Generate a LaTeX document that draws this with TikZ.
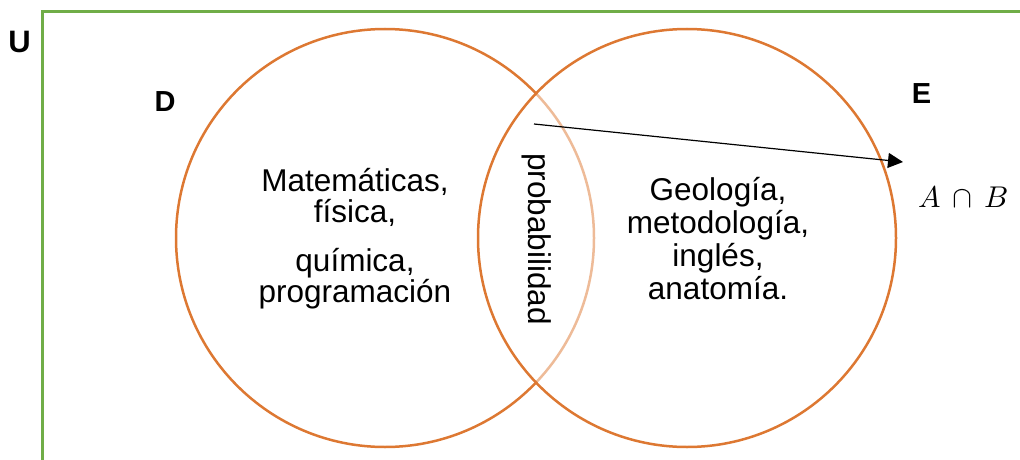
\documentclass[tikz,border=0pt]{standalone}
\usepackage{fontspec}
\usepackage{unicode-math}
\setmainfont{Liberation Sans}
\setmathfont{Latin Modern Math}
\usetikzlibrary{arrows.meta}
\definecolor{frameGreen}{RGB}{112,173,71}
\definecolor{setOrange}{RGB}{221,120,50}
\begin{document}
\begin{tikzpicture}[x=1pt,y=-1pt,
  setcircle/.style={circle, draw=setOrange, line width=2.5pt, minimum size=418pt, inner sep=0pt},
  labeltext/.style={font=\fontsize{31.5}{31}\selectfont, align=center, inner sep=0pt},
  setname/.style={font=\fontsize{29}{30}\selectfont\bfseries, inner sep=0pt},
  pointer/.style={-{Triangle[length=15pt,width=15pt]}, line width=1.2pt, black}
]
\useasboundingbox (0,0) rectangle (1020,460);
\clip (0,0) rectangle (1020,460);
\draw[frameGreen, line width=3pt] (42,475) -- (42,12) -- (1035,12);
\node[setname, font=\fontsize{31}{32}\selectfont\bfseries] (U) at (19.5,41.5) {U};
\node[setcircle] (D) at (385,238) {};
\node[setcircle, fill=white, fill opacity=0.5, draw opacity=1] (E) at (687,238) {};
\node[setname] (Dname) at (165,102) {D};
\node[setname] (Ename) at (921.5,94) {E};
\node[labeltext] (Dtext) at (355,239) {Matemáticas,\\física,\\[18pt]química,\\programación};
\node[labeltext, font=\fontsize{31.5}{33}\selectfont] (Etext) at (718,239) {Geología,\\metodología,\\inglés,\\anatomía.};
\node[labeltext, rotate=-90] (inter) at (537,239) {probabilidad};
\coordinate (arrowstart) at (534,124);
\coordinate (arrowend) at (903,162);
\draw[pointer] (arrowstart) -- (arrowend);
\node[inner sep=0pt, anchor=base, font=\fontsize{30}{31}\selectfont] (AB) at (963,207) {$A\,\cap\,B$};
\end{tikzpicture}
\end{document}
